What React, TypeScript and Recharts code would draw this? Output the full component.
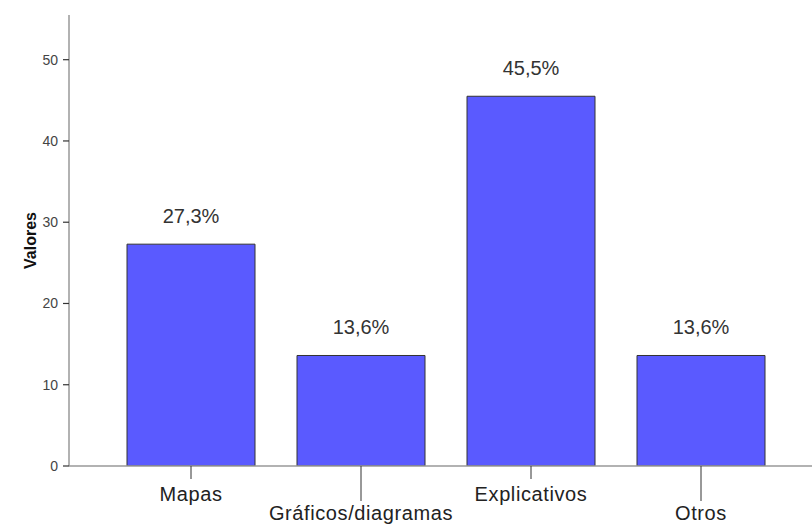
import React from 'react';
import { BarChart, Bar, XAxis, YAxis, LabelList, Label } from 'recharts';

const categories = ['Mapas', 'Gráficos/diagramas', 'Explicativos', 'Otros'];
const values = [27.3, 13.6, 45.5, 13.6];
const yTicks = [0, 10, 20, 30, 40, 50];

const data = categories.map((c, i) => ({ name: c, value: values[i] }));

const FONT = '"Liberation Sans", Arial, sans-serif';

const XTick = (props: any) => {
  const { x, y, payload, index } = props;
  const long = index % 2 === 1;
  const y0 = y - 8;
  const len = long ? 35 : 13;
  return (
    <g>
      <line x1={x} y1={y0} x2={x} y2={y0 + len} stroke="#333" strokeWidth={1} />
      <text
        x={x}
        y={y0 + (long ? 54 : 35)}
        textAnchor="middle"
        fontSize={20}
        letterSpacing={0.6}
        fontFamily={FONT}
        fill="#222"
      >
        {payload.value}
      </text>
    </g>
  );
};

const YTick = (props: any) => {
  const { x, y, payload } = props;
  const x0 = x + 8;
  return (
    <g>
      <line x1={x0 - 6} y1={y} x2={x0} y2={y} stroke="#333" strokeWidth={1.2} />
      <text x={x0 - 11} y={y + 5} textAnchor="end" fontSize={14} fontFamily={FONT} fill="#444">
        {payload.value}
      </text>
    </g>
  );
};

const ValueLabel = (props: any) => {
  const { x, y, width, value } = props;
  return (
    <text
      x={x + width / 2}
      y={y - 21}
      textAnchor="middle"
      fontSize={20}
      fontFamily={FONT}
      fill="#333"
    >
      {Number(value).toFixed(1).replace('.', ',') + '%'}
    </text>
  );
};

export default function App() {
  return (
    <div style={{ position: 'absolute', left: 0, top: 0, width: 812, height: 524, background: '#fff' }}>
      <BarChart
        width={812}
        height={524}
        data={data}
        margin={{ top: 15, right: 0, bottom: 0, left: 0 }}
        barSize={128}
      >
        <XAxis
          dataKey="name"
          height={58}
          padding={{ left: 37, right: 26 }}
          tickLine={false}
          axisLine={{ stroke: '#999', strokeWidth: 1.5 }}
          tick={<XTick />}
          interval={0}
        />
        <YAxis
          width={69}
          domain={[0, 55.5]}
          ticks={yTicks}
          tickLine={false}
          axisLine={{ stroke: '#999', strokeWidth: 1.5 }}
          tick={<YTick />}
          allowDataOverflow
        >
          <Label
            value="Valores"
            angle={-90}
            position="insideLeft"
            offset={0}
            dx={30}
            style={{ fontSize: 16, fontWeight: 'bold', fontFamily: FONT, fill: '#111', textAnchor: 'middle' }}
          />
        </YAxis>
        <Bar dataKey="value" fill="#5a5aff" stroke="#333" strokeWidth={1} isAnimationActive={false}>
          <LabelList dataKey="value" content={<ValueLabel />} />
        </Bar>
      </BarChart>
    </div>
  );
}
